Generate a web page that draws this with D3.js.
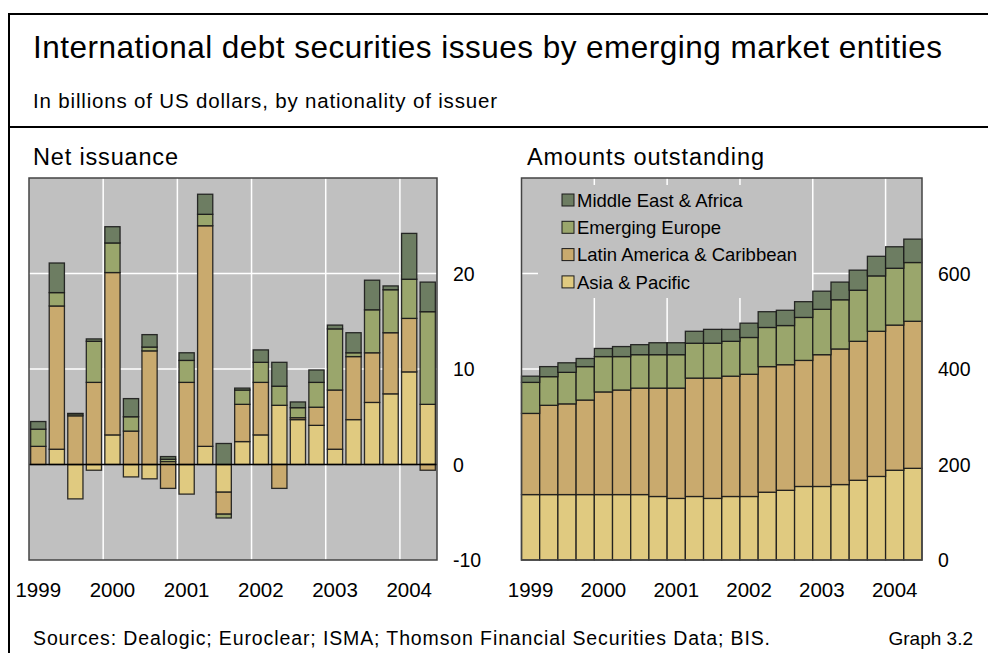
<!DOCTYPE html>
<html>
<head>
<meta charset="utf-8">
<script src="https://cdn.jsdelivr.net/npm/d3@7"></script>
<style>
  html, body { margin: 0; padding: 0; background: #fff; }
  svg { display: block; }
  text { font-family: "Liberation Sans", Arial, sans-serif; fill: #000; }
</style>
</head>
<body>
<svg id="chart" width="988" height="653"></svg>
<script>
// ---------- DATA ----------
const quarters = [
  "1999Q1","1999Q2","1999Q3","1999Q4",
  "2000Q1","2000Q2","2000Q3","2000Q4",
  "2001Q1","2001Q2","2001Q3","2001Q4",
  "2002Q1","2002Q2","2002Q3","2002Q4",
  "2003Q1","2003Q2","2003Q3","2003Q4",
  "2004Q1","2004Q2"
];
const yearLabels = ["1999","2000","2001","2002","2003","2004"];
const yearStartQuarters = ["1999Q1","2000Q1","2001Q1","2002Q1","2003Q1","2004Q1"];
const seriesNames = ["Asia & Pacific","Latin America & Caribbean","Emerging Europe","Middle East & Africa"];
const seriesColors = ["#e0ca80","#c9aa6e","#9aa66c","#6d7d62"];

// Net issuance (billions USD)
const netAsia   = [0, 1.6, -3.6, -0.6, 3.1, -1.3, -1.5, 0.3, -3.1, 1.9, -2.9, 2.4, 3.1, 6.2, 4.7, 4.1, 1.6, 4.7, 6.5, 7.4, 9.7, 6.3];
const netLatam  = [1.9, 15.0, 5.1, 8.6, 17.0, 3.5, 11.9, -2.5, 8.6, 23.1, -2.3, 3.9, 5.5, -2.5, 0.2, 1.9, 6.2, 6.6, 5.2, 6.4, 5.6, -0.6];
const netEurope = [1.8, 1.4, 0.2, 4.3, 3.1, 1.5, 0.4, 0.25, 2.3, 1.2, -0.4, 1.5, 2.1, 2.0, 1.05, 2.6, 6.4, 0.4, 4.5, 4.5, 4.1, 9.7];
const netMea    = [0.8, 3.1, 0.05, 0.25, 1.7, 1.9, 1.3, 0.28, 0.8, 2.1, 2.2, 0.2, 1.3, 2.5, 0.6, 1.3, 0.4, 2.1, 3.1, 0.4, 4.8, 3.1];

// Amounts outstanding (billions USD)
const outAsia   = [137,137,137,137,137,137,137,133,129,133,129,133,133,142,146,154,154,158,167,175,188,192];
const outLatam  = [170,187,190,198,215,219,223,227,231,248,252,252,256,263,263,264,276,284,291,304,304,308];
const outEurope = [65,60,66,70,74,70,70,70,70,73,73,73,77,82,82,90,95,103,107,116,119,123];
const outMea    = [13,21,20,17,17,21,21,25,25,25,29,25,30,33,32,33,38,37,42,41,45,49];

const netTicks = [-10, 0, 10, 20];
const outTicks = [0, 200, 400, 600];
const netDomain = [-10, 30];
const outDomain = [0, 800];

// ---------- DRAW ----------
const svg = d3.select("#chart");
svg.append("rect").attr("width", 988).attr("height", 653).attr("fill", "#fff");

// frame
svg.append("line").attr("x1", 9).attr("x2", 988).attr("y1", 14).attr("y2", 14).attr("stroke", "#000").attr("stroke-width", 2);
svg.append("line").attr("x1", 9).attr("x2", 9).attr("y1", 13).attr("y2", 653).attr("stroke", "#000").attr("stroke-width", 2);
svg.append("line").attr("x1", 9).attr("x2", 988).attr("y1", 127).attr("y2", 127).attr("stroke", "#000").attr("stroke-width", 2);

function txt(x, y, size, s, len, anchor) {
  const t = svg.append("text").attr("x", x).attr("y", y).attr("font-size", size).text(s);
  if (len) t.attr("textLength", len).attr("lengthAdjust", "spacing");
  if (anchor) t.attr("text-anchor", anchor);
  return t;
}
txt(33, 58, 31.5, "International debt securities issues by emerging market entities", 909);
txt(33, 108, 20.5, "In billions of US dollars, by nationality of issuer", 464);
txt(33, 165, 23.5, "Net issuance", 145);
txt(527, 165, 23.5, "Amounts outstanding", 237);
txt(33, 645, 19.5, "Sources: Dealogic; Euroclear; ISMA; Thomson Financial Securities Data; BIS.", 737);
txt(973, 645, 19, "Graph 3.2", null, "end");

function rows(a, b, c, d) {
  return quarters.map((q, i) => ({ q, s0: a[i], s1: b[i], s2: c[i], s3: d[i] }));
}
const keys = ["s0","s1","s2","s3"];

function panel(opts) {
  const { left, right, top, bottom, domain, ticks, data, offset, padInner, padOuter, zeroLine, gridTicks } = opts;
  const g = svg.append("g");
  const x = d3.scaleBand().domain(quarters).range([left, right]).paddingInner(padInner).paddingOuter(padOuter);
  const xs = d3.scaleBand().domain(quarters).range([left, right]);
  const y = d3.scaleLinear().domain(domain).range([bottom, top]);

  g.append("rect").attr("x", left).attr("y", top).attr("width", right - left).attr("height", bottom - top)
    .attr("fill", "#c0c0c0");

  g.selectAll(".hg").data(gridTicks).join("line")
    .attr("x1", left).attr("x2", right).attr("y1", d => y(d)).attr("y2", d => y(d))
    .attr("stroke", "#fff").attr("stroke-width", 1.5);
  g.selectAll(".vg").data(yearStartQuarters.slice(1)).join("line")
    .attr("x1", d => xs(d)).attr("x2", d => xs(d)).attr("y1", top).attr("y2", bottom)
    .attr("stroke", "#fff").attr("stroke-width", 1.5);

  if (opts.legendBox) {
    const lb = opts.legendBox;
    g.append("rect").attr("x", lb[0]).attr("y", lb[1]).attr("width", lb[2]).attr("height", lb[3]).attr("fill", "#c0c0c0");
  }

  const stack = d3.stack().keys(keys).offset(offset);
  const series = stack(data);
  g.selectAll(".ser").data(series).join("g")
    .attr("fill", (d, i) => seriesColors[i])
    .selectAll("rect").data(d => d).join("rect")
    .attr("x", d => x(d.data.q))
    .attr("width", x.bandwidth())
    .attr("y", d => y(Math.max(d[0], d[1])))
    .attr("height", d => Math.abs(y(d[0]) - y(d[1])))
    .attr("stroke", "#1a1a1a").attr("stroke-width", 1.3).attr("stroke-opacity", 0.9);

  if (zeroLine) {
    g.append("line").attr("x1", left).attr("x2", right).attr("y1", y(0)).attr("y2", y(0))
      .attr("stroke", "#000").attr("stroke-width", 1.5);
  }

  g.append("rect").attr("x", left).attr("y", top).attr("width", right - left).attr("height", bottom - top)
    .attr("fill", "none").attr("stroke", "#444").attr("stroke-width", 1.5);

  g.selectAll(".yt").data(ticks).join("text")
    .attr("x", right + 16).attr("y", d => y(d)).attr("dy", "0.36em")
    .attr("font-size", 19.5).text(d => d);

  g.selectAll(".xt").data(yearStartQuarters).join("text")
    .attr("x", d => x(d) + x.bandwidth() / 2).attr("y", 597)
    .attr("text-anchor", "middle").attr("font-size", 20.5)
    .text((d, i) => yearLabels[i]);
  return { g, x, y };
}

panel({
  left: 29, right: 437, top: 178, bottom: 560, domain: netDomain, ticks: netTicks,
  data: rows(netAsia, netLatam, netEurope, netMea), offset: d3.stackOffsetDiverging,
  padInner: 0.18, padOuter: 0.09, zeroLine: true, gridTicks: [10, 20]
});

panel({
  left: 521.5, right: 922, top: 178, bottom: 560, domain: outDomain, ticks: outTicks,
  data: rows(outAsia, outLatam, outEurope, outMea), offset: d3.stackOffsetNone,
  padInner: 0, padOuter: 0, zeroLine: false, gridTicks: [200, 400, 600],
  legendBox: [538, 185, 274, 113]
});

// legend
const legOrder = [3, 2, 1, 0];
const lg = svg.append("g");
legOrder.forEach((si, k) => {
  const cy = 200 + k * 27.3;
  lg.append("rect").attr("x", 562).attr("y", cy - 6).attr("width", 12).attr("height", 12)
    .attr("fill", seriesColors[si]).attr("stroke", "#1a1a1a").attr("stroke-width", 1);
  lg.append("text").attr("x", 577).attr("y", cy).attr("dy", "0.36em").attr("font-size", 18.5)
    .text(seriesNames[si]);
});
</script>
</body>
</html>
